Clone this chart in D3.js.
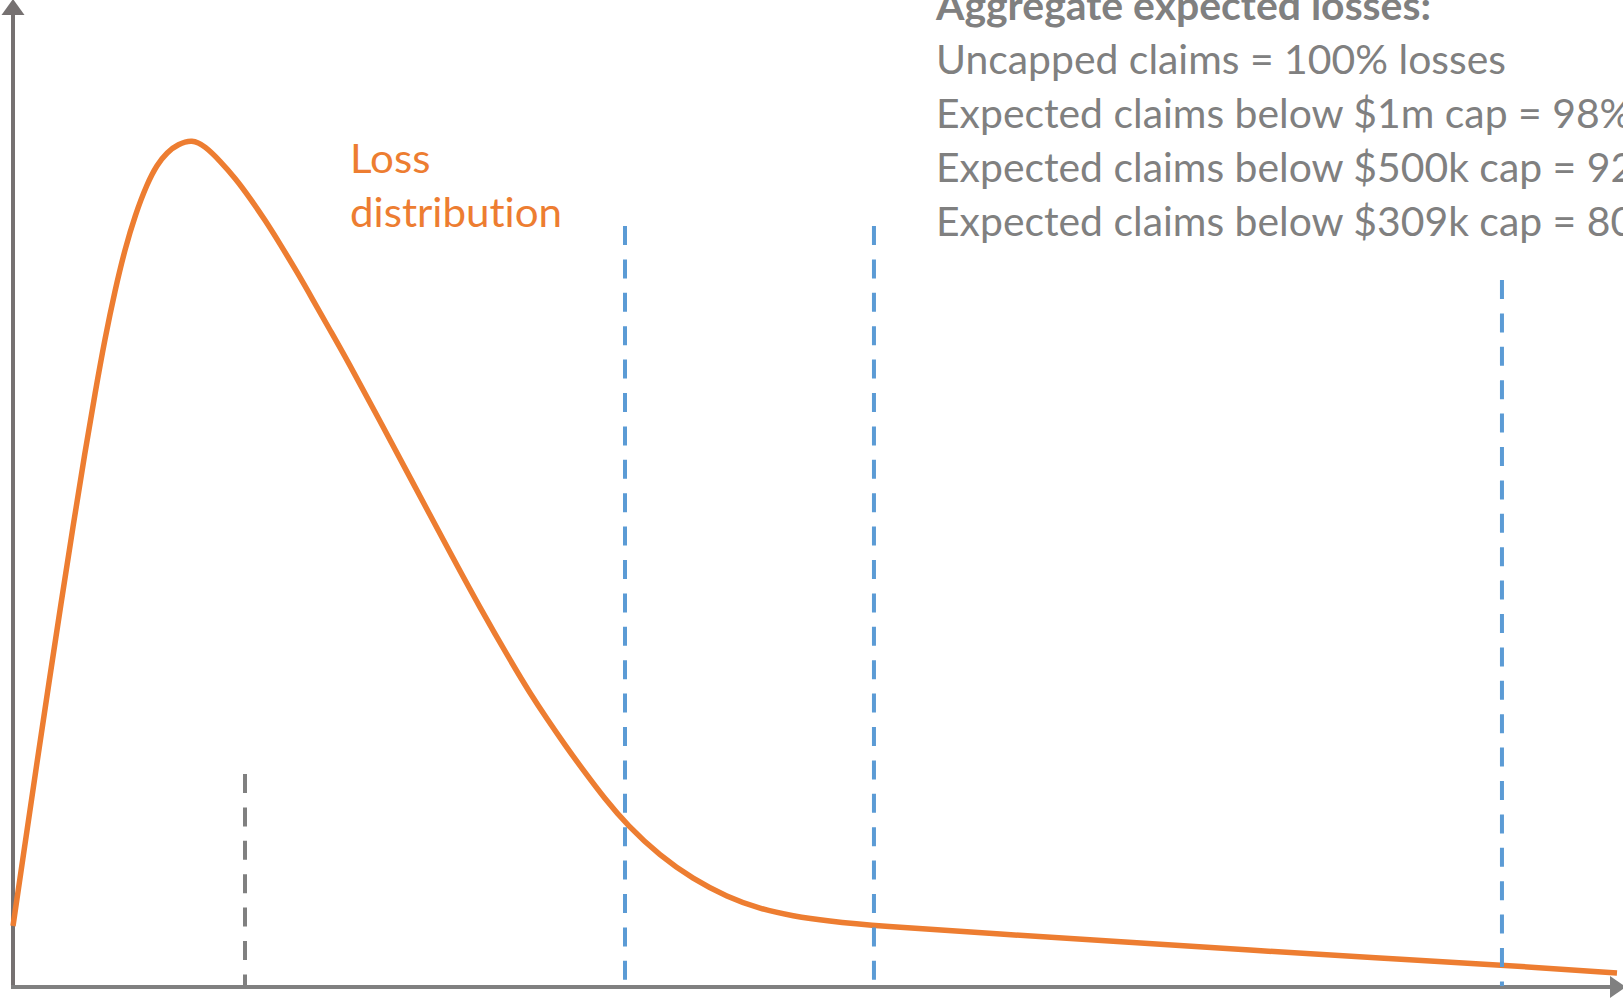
<!DOCTYPE html>
<html>
<head>
<meta charset="utf-8">
<script src="https://cdn.jsdelivr.net/npm/d3@7"></script>
<style>
  html, body { margin: 0; padding: 0; background: #ffffff; overflow: hidden; }
  svg { display: block; }
  text { font-variant-ligatures: none; font-feature-settings: "liga" 0, "clig" 0; }
</style>
</head>
<body>
<svg id="chart" width="1623" height="999"></svg>
<script>
// Loss amount (relative units, 0–100 across the axis) and density (peak = 100)
const lossAmount = [0, 0.75, 1.5, 2.25, 3.0, 3.75, 4.5, 5.13, 5.75, 6.38, 7.0, 7.63, 8.38, 9.0, 9.63, 10.31, 11.19,
  12.0, 12.94, 13.88, 14.81, 15.75, 16.69, 17.75, 18.75, 19.81, 20.88, 22.94, 25.0, 27.13, 29.19, 31.25,
  32.31, 33.38, 34.5, 35.63, 37.0, 38.38, 40.44, 42.5, 44.63, 46.69, 48.75, 50.88, 54.0,
  61.69, 69.5, 77.31, 85.13, 93.13, 100.25];
const density = [7.21, 16.91, 26.54, 36.02, 45.34, 54.44, 63.25, 70.21, 76.68, 82.4, 87.25, 91.23, 94.96, 97.2, 98.69, 99.6, 100.2,
  99.4, 97.64, 95.63, 93.26, 90.66, 87.83, 84.52, 81.21, 77.66, 74.11, 66.9, 59.57, 52.01, 44.8, 38.06,
  34.75, 31.68, 28.61, 25.65, 22.22, 19.15, 15.48, 12.77, 10.64, 9.22, 8.39, 7.8, 7.21,
  6.26, 5.32, 4.37, 3.43, 2.6, 1.65];

// Claim caps ($309k, $500k, $1m) and the average claim marker
const capNames = ["$309k", "$500k", "$1m"];
const capAmount = [38.25, 53.81, 93.06];
const capHeight = [89.95, 89.95, 83.57];
const averageAmount = [14.5];
const averageHeight = [25.18];

// Text
const curveLabel = ["Loss", "distribution"];
const summaryTitle = "Aggregate expected losses:";
const summaryLines = [
  "Uncapped claims = 100% losses",
  "Expected claims below $1m cap = 98%",
  "Expected claims below $500k cap = 92%",
  "Expected claims below $309k cap = 80%"
];

const svg = d3.select("#chart");
const x = d3.scaleLinear().domain([0, 100]).range([13, 1613]);
const y = d3.scaleLinear().domain([0, 100]).range([987, 141]);

const axisX = "#808080", axisY = "#767171";
const orange = "#ed7d31", blue = "#5b9bd5", grey = "#808080";

// Axes with arrowheads
svg.append("line")
  .attr("x1", x(0)).attr("x2", x(0))
  .attr("y1", y(0) + 2).attr("y2", 14)
  .attr("stroke", axisY).attr("stroke-width", 4);
svg.append("path")
  .attr("d", `M${x(0)},-1 L${x(0) - 11.5},15 L${x(0) + 11.5},15 Z`)
  .attr("fill", axisY);

svg.append("line")
  .attr("x1", x(0) - 2).attr("x2", 1611)
  .attr("y1", y(0)).attr("y2", y(0))
  .attr("stroke", axisX).attr("stroke-width", 4);
svg.append("path")
  .attr("d", `M1626,${y(0)} L1610,${y(0) - 11} L1610,${y(0) + 11} Z`)
  .attr("fill", axisX);

// Average claim marker
svg.selectAll("line.avg")
  .data(averageAmount)
  .join("line")
  .attr("class", "avg")
  .attr("x1", d => x(d)).attr("x2", d => x(d))
  .attr("y1", (d, i) => y(averageHeight[i])).attr("y2", y(0))
  .attr("stroke", grey).attr("stroke-width", 4)
  .attr("stroke-dasharray", "19,14.4");

// Loss distribution curve
const pts = lossAmount.map((v, i) => [v, density[i]]);
svg.append("path")
  .datum(pts)
  .attr("fill", "none")
  .attr("stroke", orange)
  .attr("stroke-width", 5.5)
  .attr("stroke-linecap", "butt")
  .attr("stroke-linejoin", "round")
  .attr("d", d3.line().x(d => x(d[0])).y(d => y(d[1])).curve(d3.curveBasis));

// Cap markers
svg.selectAll("line.cap")
  .data(capAmount)
  .join("line")
  .attr("class", "cap")
  .attr("x1", d => x(d)).attr("x2", d => x(d))
  .attr("y1", (d, i) => y(capHeight[i])).attr("y2", y(0) - 1)
  .attr("stroke", blue).attr("stroke-width", 4)
  .attr("stroke-dasharray", "19,14.4");

// Curve label
const fontFamily = "Lato, 'Open Sans', sans-serif";
const lbl = svg.append("g")
  .attr("font-family", fontFamily)
  .attr("font-size", 40)
  .attr("fill", orange);
const lblText = lbl.selectAll("text")
  .data(curveLabel)
  .join("text")
  .attr("x", 350)
  .attr("y", (d, i) => 173 + i * 54)
  .text(d => d);

// Summary text block
const sum = svg.append("g")
  .attr("font-family", fontFamily)
  .attr("font-size", 40)
  .attr("fill", grey);
const titleText = sum.append("text")
  .attr("x", 936).attr("y", 20)
  .attr("font-weight", "bold")
  .text(summaryTitle);
const lineText = sum.selectAll("text.line")
  .data(summaryLines)
  .join("text")
  .attr("class", "line")
  .attr("x", 936)
  .attr("y", (d, i) => 74 + i * 54)
  .text(d => d);

// Condense glyph widths to the narrower body face
function fitWidths(sel, refNode, target) {
  const k = target / refNode.getComputedTextLength();
  sel.each(function () {
    const w = this.getComputedTextLength();
    d3.select(this).attr("textLength", w * k).attr("lengthAdjust", "spacingAndGlyphs");
  });
}
fitWidths(lineText, lineText.nodes()[0], 570);
fitWidths(titleText, titleText.node(), 495);
fitWidths(lblText, lblText.nodes()[1], 212);
</script>
</body>
</html>
